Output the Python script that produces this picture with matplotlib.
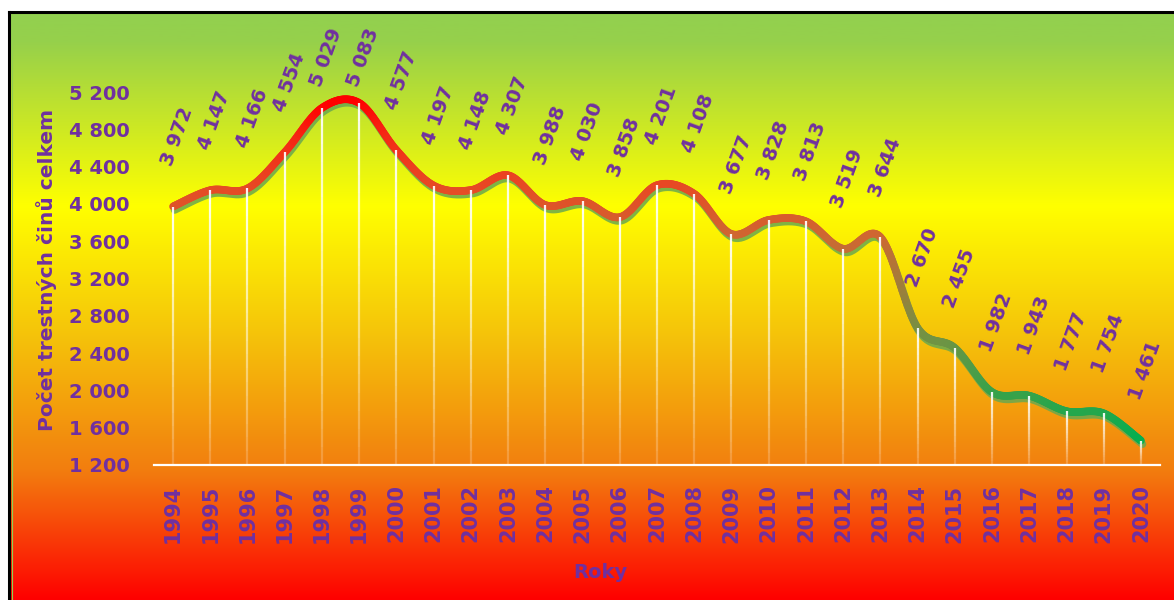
import numpy as np
import matplotlib
matplotlib.use("Agg")
import matplotlib.pyplot as plt
from matplotlib.collections import LineCollection
from matplotlib.colors import LinearSegmentedColormap, Normalize
import matplotlib.transforms as mtransforms

# Data
years = [1994, 1995, 1996, 1997, 1998, 1999, 2000, 2001, 2002, 2003, 2004, 2005, 2006,
         2007, 2008, 2009, 2010, 2011, 2012, 2013, 2014, 2015, 2016, 2017, 2018, 2019, 2020]
crimes = [3972, 4147, 4166, 4554, 5029, 5083, 4577, 4197, 4148, 4307, 3988, 4030, 3858,
          4201, 4108, 3677, 3828, 3813, 3519, 3644, 2670, 2455, 1982, 1943, 1777, 1754, 1461]
y_ticks = [1200, 1600, 2000, 2400, 2800, 3200, 3600, 4000, 4400, 4800, 5200]

PURPLE = "#7030A0"


def fmt(v):
    return f"{v:,}".replace(",", " ")


def smooth(x, y, n=30):
    # Excel-like smoothed line (Catmull-Rom through the points)
    pts = np.column_stack([x, y]).astype(float)
    P = np.vstack([pts[0], pts, pts[-1]])
    t = np.linspace(0, 1, n)[:, None]
    out = []
    for i in range(len(pts) - 1):
        p0, p1, p2, p3 = P[i], P[i + 1], P[i + 2], P[i + 3]
        c1 = p1 + (p2 - p0) / 6
        c2 = p2 - (p3 - p1) / 6
        seg = (1 - t) ** 3 * p1 + 3 * (1 - t) ** 2 * t * c1 + 3 * (1 - t) * t ** 2 * c2 + t ** 3 * p2
        out.append(seg if i == 0 else seg[1:])
    return np.vstack(out)


fig = plt.figure(figsize=(11.74, 6.0), dpi=100)
fig.patch.set_facecolor("white")

# Background frame with vertical gradient green -> yellow -> orange -> red
bg = fig.add_axes([9 / 1174, 0, 1 - 9 / 1174, 588 / 600])
stops = [0.0, 0.05, 0.33, 0.55, 0.78, 1.0]
cols = np.array([(146, 208, 80), (150, 208, 75), (255, 255, 0),
                 (245, 195, 10), (242, 125, 15), (255, 0, 0)]) / 255
pos = np.linspace(0, 1, 600)
grad = np.stack([np.interp(pos, stops, cols[:, k]) for k in range(3)], axis=1)
bg.imshow(grad[:, None, :], aspect="auto", extent=[0, 1, 0, 1], origin="upper")
bg.set_xlim(0, 1)
bg.set_ylim(0, 1)
bg.set_xticks([])
bg.set_yticks([])
for side in ["right", "bottom"]:
    bg.spines[side].set_visible(False)
for side in ["top", "left"]:
    bg.spines[side].set_color("black")
    bg.spines[side].set_linewidth(2.2)
bg.axvline(0.003, color="#92D050", lw=0.8)

# Plot area
ax = fig.add_axes([154.4 / 1174, 135 / 600, 1005.2 / 1174, 373 / 600])
ax.patch.set_alpha(0)
ax.set_xlim(1993.5, 2020.5)
ax.set_ylim(1200, 5200)

curve = smooth(years, crimes)
segs = np.stack([curve[:-1], curve[1:]], axis=1)
mid_vals = (curve[:-1, 1] + curve[1:, 1]) / 2

cmap = LinearSegmentedColormap.from_list("val", [
    (0.0, (0 / 255, 176 / 255, 80 / 255)),
    (0.3, (110 / 255, 148 / 255, 68 / 255)),
    (0.6, (205 / 255, 105 / 255, 50 / 255)),
    (0.76, (232 / 255, 72 / 255, 36 / 255)),
    (0.9, (245 / 255, 40 / 255, 20 / 255)),
    (1.0, (255 / 255, 0, 0)),
])
norm = Normalize(1400, 5100)

# shadow under the line
shadow_tr = mtransforms.offset_copy(ax.transData, fig=fig, x=1.5, y=-3.5, units="dots")
ax.plot(curve[:, 0], curve[:, 1], color="#6AA84F", lw=5.5, alpha=0.85,
        solid_capstyle="round", transform=shadow_tr, zorder=2)

lc = LineCollection(segs, colors=cmap(norm(mid_vals)), linewidths=5.5,
                    capstyle="round", zorder=3)
ax.add_collection(lc)

# white drop lines, fading toward the axis
drop_segs = []
drop_cols = []
for x, v in zip(years, crimes):
    ys = np.linspace(v, 1200, 21)
    for k in range(20):
        drop_segs.append([(x, ys[k]), (x, ys[k + 1])])
        drop_cols.append((1, 1, 1, 0.92 - 0.72 * k / 19))
ax.add_collection(LineCollection(drop_segs, colors=drop_cols, linewidths=1.6, zorder=4))

# data labels (pushed down when they would leave the chart area)
for x, v in zip(years, crimes):
    ly = min(v + 750, 5565)
    ax.text(x + 0.12, ly, fmt(v), rotation=70, rotation_mode="anchor", ha="center", va="center",
            fontsize=14, fontweight="bold", color=PURPLE, clip_on=False, zorder=5)

# axes styling
for side in ["top", "right", "left"]:
    ax.spines[side].set_visible(False)
ax.spines["bottom"].set_color("white")
ax.spines["bottom"].set_linewidth(1.6)
ax.set_yticks(y_ticks)
ax.set_yticklabels([fmt(v) for v in y_ticks], fontsize=14, fontweight="bold", color=PURPLE)
ax.set_xticks(years)
ax.set_xticklabels([str(y) for y in years], rotation=90, fontsize=15,
                   fontweight="bold", color=PURPLE)
ax.tick_params(axis="y", length=0, pad=18)
ax.tick_params(axis="x", length=0, pad=14)

fig.text(47 / 1174, 1 - 270 / 600, "Počet trestných činů celkem", rotation=90,
         ha="center", va="center", fontsize=14.5, fontweight="bold", color=PURPLE)
fig.text(600 / 1174, 1 - 573 / 600, "Roky", ha="center", va="center",
         fontsize=14, fontweight="bold", color=PURPLE)

fig.savefig("out.png", dpi=100)
